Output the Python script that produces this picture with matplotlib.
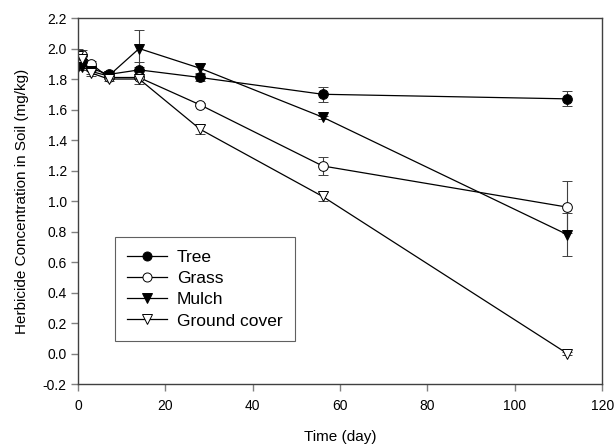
import matplotlib
matplotlib.use("Agg")
import matplotlib.pyplot as plt

plt.rcParams["font.family"] = ["Liberation Sans", "DejaVu Sans"]

days = [0, 1, 3, 7, 14, 28, 56, 112]

tree = [1.90, 1.91, 1.87, 1.83, 1.86, 1.81, 1.70, 1.67]
tree_err = [0.02, 0.02, 0.02, 0.01, 0.05, 0.02, 0.05, 0.05]

grass = [1.92, 1.96, 1.90, 1.81, 1.81, 1.63, 1.23, 0.96]
grass_err = [0.03, 0.03, 0.02, 0.01, 0.01, 0.01, 0.06, 0.17]

mulch = [1.88, 1.88, 1.85, 1.82, 2.00, 1.87, 1.55, 0.78]
mulch_err = [0.02, 0.02, 0.02, 0.01, 0.12, 0.03, 0.01, 0.14]

ground = [1.95, 1.93, 1.84, 1.80, 1.80, 1.47, 1.03, 0.00]
ground_err = [0.05, 0.02, 0.02, 0.01, 0.03, 0.03, 0.03, 0.01]

labels = ["Tree", "Grass", "Mulch", "Ground cover"]

fig = plt.figure(figsize=(6.16, 4.45), dpi=100)
ax = fig.add_axes([0.1266, 0.137, 0.851, 0.8225])

styles = [
    (tree, tree_err, "o", "black"),
    (grass, grass_err, "o", "white"),
    (mulch, mulch_err, "v", "black"),
    (ground, ground_err, "v", "white"),
]
for (vals, err, mk, fc), lab in zip(styles, labels):
    ax.errorbar(days, vals, yerr=err, color="black", lw=0.9,
                marker=mk, ms=7, mfc=fc, mec="black", mew=0.7,
                ecolor="#404040", elinewidth=0.8, capsize=3.5, capthick=0.8,
                label=lab)

ax.set_xlim(0, 120)
ax.set_ylim(-0.2, 2.2)
ax.set_xticks(range(0, 121, 20))
ax.set_yticks([round(-0.2 + 0.2 * i, 1) for i in range(13)])
ax.set_yticklabels([f"{-0.2 + 0.2 * i:.1f}" for i in range(13)])

for s in ax.spines.values():
    s.set_color("#404040")
    s.set_linewidth(1.0)
ax.tick_params(direction="out", length=5, color="#808080", width=1,
               labelsize=10, top=False, right=False, pad=3)
ax.tick_params(axis="x", pad=6)

ax.set_xlabel("Time (day)", fontsize=11, labelpad=12)
ax.set_ylabel("Herbicide Concentration in Soil (mg/kg)", fontsize=11, labelpad=10)

handles, labs = ax.get_legend_handles_labels()
handles = [h[0] for h in handles]
leg = ax.legend(handles, labs, loc="lower left", bbox_to_anchor=(0.0706, 0.1175),
                fontsize=12.5, fancybox=False, framealpha=1, edgecolor="#606060",
                handlelength=2.3, handletextpad=0.55, borderpad=0.72,
                labelspacing=0.35, borderaxespad=0)
for h in leg.legend_handles:
    h.set_markersize(6.5)
leg.get_frame().set_linewidth(0.8)

fig.savefig("out.png", dpi=100)
